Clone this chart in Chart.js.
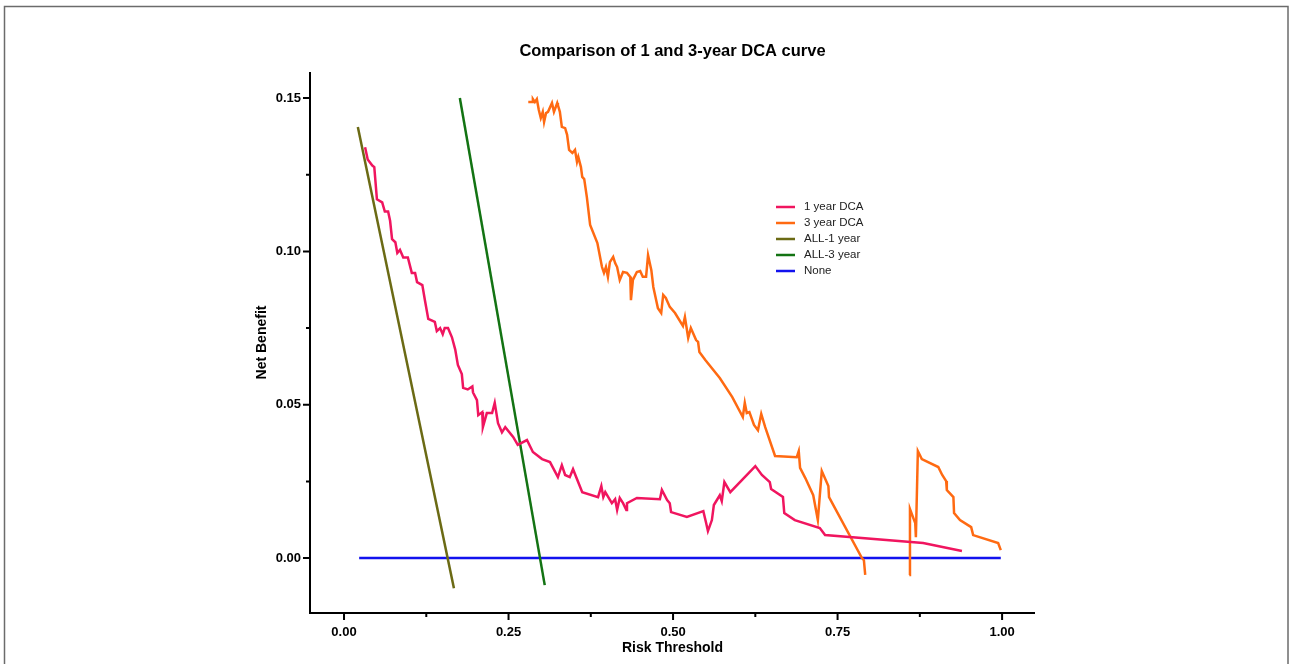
<!DOCTYPE html>
<html>
<head>
<meta charset="utf-8">
<script src="https://cdn.jsdelivr.net/npm/chart.js@4.4.1/dist/chart.umd.min.js"></script>
<style>
  body { margin: 0; background: #fff; }
  #wrap { position: relative; width: 1290px; height: 664px; }
</style>
</head>
<body>
<div id="wrap"><canvas id="dca-chart" width="1290" height="664"></canvas></div>
<script>
// Data
const seriesNames = ['1 year DCA', '3 year DCA', 'ALL-1 year', 'ALL-3 year', 'None'];
const xTickValues = [0, 0.25, 0.5, 0.75, 1.0];
const yTickValues = [0, 0.05, 0.10, 0.15];

const oneYearX = [0.032, 0.036, 0.043, 0.046, 0.050, 0.058, 0.062, 0.067, 0.070, 0.073, 0.078, 0.081, 0.085, 0.090, 0.097,
  0.103, 0.108, 0.111, 0.119, 0.123, 0.128, 0.138, 0.141, 0.146, 0.150, 0.153, 0.158, 0.164, 0.169, 0.173, 0.179,
  0.181, 0.188, 0.195, 0.196, 0.202, 0.204, 0.210, 0.211, 0.217, 0.225, 0.229, 0.234, 0.240, 0.245, 0.257, 0.264,
  0.278, 0.287, 0.301, 0.313, 0.325, 0.331, 0.336, 0.343, 0.348, 0.362, 0.386, 0.391, 0.394, 0.397, 0.407, 0.412,
  0.415, 0.419, 0.424, 0.429, 0.430, 0.445, 0.480, 0.483, 0.491, 0.495, 0.497, 0.521, 0.546, 0.550, 0.553, 0.559,
  0.562, 0.571, 0.574, 0.578, 0.587, 0.625, 0.635, 0.647, 0.649, 0.667, 0.669, 0.685, 0.723, 0.731, 0.880, 0.939];
const oneYearY = [0.134, 0.130, 0.128, 0.1275, 0.117, 0.116, 0.113, 0.113, 0.110, 0.104, 0.103, 0.0995, 0.1005, 0.098, 0.098,
  0.093, 0.093, 0.090, 0.089, 0.084, 0.078, 0.077, 0.074, 0.075, 0.073, 0.075, 0.075, 0.072, 0.068, 0.063, 0.060,
  0.0555, 0.055, 0.056, 0.054, 0.0515, 0.0466, 0.0476, 0.0427, 0.0473, 0.0473, 0.0506, 0.044, 0.041, 0.0427, 0.0395, 0.0369,
  0.0385, 0.0346, 0.0323, 0.0313, 0.0264, 0.0303, 0.0271, 0.0264, 0.029, 0.0215, 0.0199, 0.0235, 0.0199, 0.0215, 0.0179, 0.0192,
  0.0157, 0.0196, 0.0179, 0.0157, 0.0179, 0.0196, 0.0192, 0.0222, 0.0189, 0.0179, 0.015, 0.0134, 0.0153, 0.0117, 0.0088, 0.0124,
  0.0173, 0.0205, 0.0186, 0.0248, 0.0215, 0.030, 0.0271, 0.0248, 0.0225, 0.0199, 0.0147, 0.0124, 0.0098, 0.0075, 0.0049, 0.0023];

const threeYearX = [0.280, 0.286, 0.287, 0.290, 0.293, 0.296, 0.299, 0.302, 0.304, 0.307, 0.310, 0.316, 0.319, 0.324, 0.325,
  0.328, 0.331, 0.336, 0.339, 0.342, 0.347, 0.351, 0.354, 0.356, 0.360, 0.362, 0.365, 0.369, 0.374, 0.385, 0.392,
  0.395, 0.398, 0.401, 0.404, 0.409, 0.412, 0.415, 0.419, 0.424, 0.430, 0.435, 0.436, 0.439, 0.445, 0.450, 0.454,
  0.459, 0.462, 0.467, 0.470, 0.477, 0.482, 0.485, 0.489, 0.495, 0.503, 0.515, 0.518, 0.523, 0.527, 0.535, 0.538,
  0.540, 0.549, 0.571, 0.590, 0.606, 0.609, 0.612, 0.616, 0.623, 0.629, 0.634, 0.640, 0.655, 0.688, 0.691, 0.693,
  0.701, 0.713, 0.720, 0.726, 0.736, 0.737, 0.787, 0.790, 0.792, 0.825, 0.859, 0.860, 0.868, 0.869, 0.872, 0.878,
  0.903, 0.909, 0.915, 0.916, 0.926, 0.927, 0.936, 0.953, 0.956, 0.994, 0.998];
const threeYearY = [0.1487, 0.1487, 0.1497, 0.1487, 0.1497, 0.1461, 0.1435, 0.1455, 0.1422, 0.1451, 0.1455, 0.1484, 0.1455, 0.1484, 0.1477,
  0.1455, 0.1406, 0.1402, 0.138, 0.1331, 0.1321, 0.1331, 0.1292, 0.1308, 0.1275, 0.1243, 0.1236, 0.1177, 0.1086, 0.1027, 0.0949,
  0.093, 0.0949, 0.0917, 0.0965, 0.0982, 0.0962, 0.0949, 0.0907, 0.0933, 0.093, 0.0917, 0.0841, 0.0907, 0.0933, 0.0936, 0.0917,
  0.0917, 0.0988, 0.0939, 0.0884, 0.0815, 0.0799, 0.0858, 0.0848, 0.0819, 0.0799, 0.0757, 0.0786, 0.0718, 0.075, 0.0711, 0.0705,
  0.0672, 0.0646, 0.0587, 0.0525, 0.046, 0.0506, 0.0473, 0.0476, 0.0434, 0.0417, 0.047, 0.0427, 0.0333, 0.0329, 0.0349, 0.0294,
  0.0261, 0.0205, 0.0124, 0.0284, 0.0235, 0.0199, 0.0, -0.0007, -0.0055, null, -0.0055, 0.016, 0.0114, 0.0068, 0.0349, 0.0323,
  0.0297, 0.0271, 0.0251, 0.0222, 0.0199, 0.0147, 0.0124, 0.0101, 0.0075, 0.0049, 0.0026];

const allOneYearX = [0.021, 0.167];
const allOneYearY = [0.1406, -0.0098];
const allThreeYearX = [0.176, 0.305];
const allThreeYearY = [0.150, -0.0088];
const noneX = [0.023, 0.998];
const noneY = [0, 0];

const seriesColors = ['#F0155F', '#FF6A12', '#6B6A14', '#137313', '#1212EE'];

function toPoints(xs, ys) {
    return xs.map((x, i) => ({ x: x, y: ys[i] }));
}

const FONT = "'Liberation Sans', Arial, sans-serif";

// Frame, title, axis lines, tick marks and legend
const decorPlugin = {
    id: 'decor',
    beforeDraw(chart) {
        const ctx = chart.ctx;
        ctx.save();
        ctx.strokeStyle = '#6b6b6b';
        ctx.lineWidth = 1.5;
        ctx.strokeRect(4.5, 6.5, 1283.5, 700);
        ctx.restore();
    },
    afterDraw(chart) {
        const ctx = chart.ctx;
        const area = chart.chartArea;
        const xs = chart.scales.x;
        const ys = chart.scales.y;
        ctx.save();

        // title
        ctx.fillStyle = '#000';
        ctx.font = 'bold 16.5px ' + FONT;
        ctx.textAlign = 'center';
        ctx.textBaseline = 'middle';
        ctx.fillText('Comparison of 1 and 3-year DCA curve', (area.left + area.right) / 2, 51);

        // axis lines
        ctx.strokeStyle = '#000';
        ctx.lineWidth = 2;
        ctx.beginPath();
        ctx.moveTo(area.left, area.top);
        ctx.lineTo(area.left, area.bottom);
        ctx.lineTo(area.right, area.bottom);
        ctx.stroke();

        // tick marks
        ctx.beginPath();
        xs.ticks.forEach(t => {
            const px = xs.getPixelForValue(t.value);
            const major = xTickValues.some(v => Math.abs(v - t.value) < 1e-6);
            ctx.moveTo(px, area.bottom);
            ctx.lineTo(px, area.bottom + (major ? 7 : 4));
        });
        ys.ticks.forEach(t => {
            const py = ys.getPixelForValue(t.value);
            const major = yTickValues.some(v => Math.abs(v - t.value) < 1e-6);
            ctx.moveTo(area.left, py);
            ctx.lineTo(area.left - (major ? 7 : 4), py);
        });
        ctx.stroke();

        // legend
        ctx.font = '11.5px ' + FONT;
        ctx.textAlign = 'left';
        ctx.textBaseline = 'middle';
        chart.data.datasets.forEach((ds, i) => {
            const y = 207 + i * 16;
            ctx.strokeStyle = ds.borderColor;
            ctx.lineWidth = 2.5;
            ctx.beginPath();
            ctx.moveTo(776, y);
            ctx.lineTo(795, y);
            ctx.stroke();
            ctx.fillStyle = '#222';
            ctx.fillText(ds.label, 804, y);
        });
        ctx.restore();
    }
};

const seriesX = [oneYearX, threeYearX, allOneYearX, allThreeYearX, noneX];
const seriesY = [oneYearY, threeYearY, allOneYearY, allThreeYearY, noneY];

new Chart(document.getElementById('dca-chart').getContext('2d'), {
    type: 'scatter',
    data: {
        datasets: seriesNames.map((name, i) => ({
            label: name,
            data: toPoints(seriesX[i], seriesY[i]),
            showLine: true,
            spanGaps: false,
            borderColor: seriesColors[i],
            backgroundColor: seriesColors[i],
            borderWidth: 2.5,
            pointRadius: 0,
            tension: 0
        }))
    },
    options: {
        responsive: false,
        animation: false,
        layout: {
            padding: { top: 72, right: 255, left: 0, bottom: 0 }
        },
        plugins: {
            legend: { display: false },
            title: { display: false },
            tooltip: { enabled: false }
        },
        scales: {
            x: {
                type: 'linear',
                min: -0.0517,
                max: 1.050,
                grid: { display: false, drawTicks: false },
                border: { display: false },
                afterBuildTicks: function(scale) {
                    const t = [];
                    for (let i = 0; i <= 8; i++) t.push({ value: i * 0.125 });
                    scale.ticks = t;
                },
                afterFit: function(scale) { scale.height = 51; },
                ticks: {
                    color: '#000',
                    padding: 12,
                    autoSkip: false,
                    maxRotation: 0,
                    font: { family: FONT, size: 13, weight: 'bold' },
                    callback: function(value) {
                        return xTickValues.some(v => Math.abs(v - value) < 1e-6) ? value.toFixed(2) : '';
                    }
                },
                title: {
                    display: true,
                    text: 'Risk Threshold',
                    color: '#000',
                    font: { family: FONT, size: 14, weight: 'bold' },
                    padding: { top: 0, bottom: 7.6 }
                }
            },
            y: {
                type: 'linear',
                min: -0.0179,
                max: 0.1585,
                grid: { display: false, drawTicks: false },
                border: { display: false },
                afterBuildTicks: function(scale) {
                    const t = [];
                    for (let i = 0; i <= 6; i++) t.push({ value: i * 0.025 });
                    scale.ticks = t;
                },
                afterFit: function(scale) { scale.width = 310; },
                ticks: {
                    color: '#000',
                    padding: 9,
                    autoSkip: false,
                    font: { family: FONT, size: 13, weight: 'bold' },
                    callback: function(value) {
                        return yTickValues.some(v => Math.abs(v - value) < 1e-6) ? value.toFixed(2) : '';
                    }
                },
                title: {
                    display: true,
                    text: 'Net Benefit',
                    color: '#000',
                    font: { family: FONT, size: 14, weight: 'bold' },
                    padding: { top: 253.6, bottom: 0 }
                }
            }
        }
    },
    plugins: [decorPlugin]
});
</script>
</body>
</html>
